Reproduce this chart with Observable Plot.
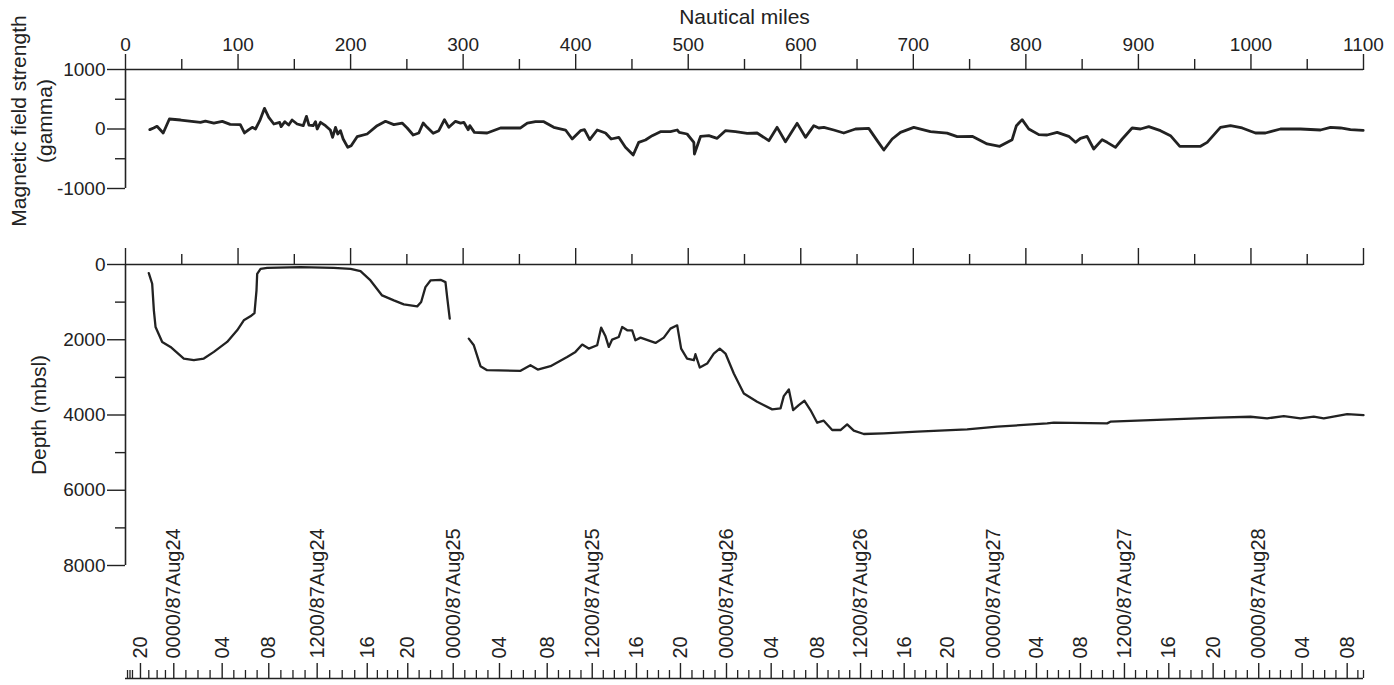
<!DOCTYPE html>
<html>
<head>
<meta charset="utf-8">
<script src="https://cdn.jsdelivr.net/npm/d3@7"></script>
<script src="https://cdn.jsdelivr.net/npm/@observablehq/plot@0.6"></script>
<style>
  html, body { margin: 0; padding: 0; background: #fff; overflow: hidden; }
  #wrap { position: relative; width: 1394px; height: 685px; }
  #wrap > div { position: absolute; left: 0; top: 0; }
</style>
</head>
<body>
<div id="wrap"><div id="p1"></div><div id="p2"></div><div id="p3"></div></div>
<script>
// ---------- Data ----------
// Magnetic field anomaly (gamma) vs distance (nautical miles)
const magNm = [21.6, 25, 28, 33.5, 39, 49, 66.6, 71, 78.5, 86, 93, 102, 105.7, 109.6, 112.6, 115.5, 119.3, 123.5, 127.3, 131.8, 137, 138.3, 141.6, 145, 148, 152.5, 157.9, 160.8, 163, 166.7, 168.8, 170.3, 173.3, 177.7, 182, 184, 186.6, 188.6, 191, 193.4, 197.5, 200.5, 205.8, 214.7, 223.6, 231, 238.4, 245.8, 250.3, 255.6, 260.6, 264.5, 268, 273.4, 278.4, 283.4, 287.3, 293.2, 297.7, 300.6, 304.5, 305.9, 310, 321.3, 333.2, 351, 357, 364.3, 371.7, 380.5, 391, 396.9, 404.3, 407.8, 412.5, 419.1, 426.5, 431.5, 438.3, 444.2, 451.1, 456, 462, 468, 475.3, 484.2, 490.2, 492, 499, 505, 505.5, 511, 518.3, 525.7, 533, 542, 552.4, 561.2, 571.6, 579, 586.4, 596.8, 604.2, 611.6, 616, 620.5, 629.3, 638.2, 648.6, 660.4, 667.9, 673.8, 681.2, 688.6, 700.4, 715.2, 730, 739, 752.3, 765.6, 776.8, 787.8, 791.6, 796.7, 802.6, 811.5, 818.9, 827.8, 838.1, 844.1, 848.5, 854.4, 860.3, 867.8, 872.2, 879.6, 885.6, 894.4, 901.8, 909.2, 919.6, 928.5, 936.8, 955.2, 961.1, 972.9, 981.8, 992.2, 1004, 1012.9, 1026.2, 1044, 1061.8, 1070.7, 1079.6, 1088.4, 1099.7];
const magGamma = [-11, 17, 45, -67, 168, 151, 112, 134, 100, 129, 78, 73, -67, -11, 28, 0, 140, 347, 196, 84, 112, 39, 123, 67, 151, 84, 56, 213, 67, 56, 123, 0, 112, 56, -17, -140, 28, -84, -28, -168, -308, -280, -129, -84, 56, 129, 73, 100, 17, -101, -67, 100, 28, -73, -28, 157, 28, 129, 100, 112, -11, 56, -56, -67, 17, 17, 100, 123, 123, 28, -17, -168, -28, -11, -179, -17, -67, -168, -140, -308, -437, -224, -185, -112, -45, -45, -17, -56, -84, -224, -420, -123, -112, -157, -28, -45, -73, -67, -196, 28, -213, 95, -140, 56, 17, 28, -17, -67, 0, 11, -196, -353, -168, -56, 28, -45, -70, -129, -123, -252, -291, -179, 56, 157, 0, -95, -101, -56, -123, -224, -157, -123, -336, -179, -224, -308, -168, 17, 0, 39, -28, -112, -291, -291, -224, 28, 56, 17, -67, -67, 0, 0, -17, 28, 17, -11, -22];

// Bathymetry (m below sea level), two recorded segments
const depthNm1 = [20.7, 23.7, 25.2, 26.7, 32.6, 40, 51.8, 60.7, 69.6, 78.5, 90.3, 99.2, 105.1, 111, 114.6, 116.4, 117, 120, 125.9, 155.5, 185, 200, 208.8, 217.7, 228, 238.4, 247.3, 259.2, 262.7, 266.5, 271, 279.9, 284.3, 285.8, 288.1];
const depthM1 = [230, 512, 1219, 1661, 2058, 2191, 2500, 2544, 2500, 2323, 2058, 1749, 1484, 1378, 1290, 689, 247, 115, 88, 71, 88, 115, 177, 424, 822, 954, 1060, 1113, 998, 601, 424, 406, 468, 866, 1439];
const depthNm2 = [305, 309.5, 315.4, 321.3, 351, 359.8, 366.3, 377.6, 392.4, 399.8, 405.8, 411.6, 419.1, 422.6, 426.5, 429.4, 432.4, 438.3, 441.3, 445.8, 450.2, 453.1, 457.6, 470.9, 478.3, 484.2, 490.2, 493.7, 499, 505, 506.4, 510.3, 516.8, 522.7, 528, 533.1, 540.5, 549.4, 561.2, 574.6, 582, 584.9, 589.4, 593.2, 598.2, 603.3, 608.6, 614.6, 620.4, 627.9, 635.3, 641.2, 647.1, 656, 673.8, 703.4, 747.8, 774.5, 818.9, 824.8, 872.2, 875.1, 910.7, 969.9, 999.6, 1014.4, 1029.2, 1044, 1055.8, 1064.7, 1085.5, 1100];
const depthM2 = [1970, 2147, 2703, 2809, 2827, 2677, 2792, 2703, 2456, 2323, 2128, 2235, 2147, 1678, 1908, 2191, 1996, 1926, 1661, 1749, 1749, 2014, 1944, 2085, 1944, 1705, 1617, 2235, 2500, 2544, 2385, 2738, 2633, 2367, 2235, 2367, 2897, 3427, 3648, 3851, 3825, 3498, 3321, 3869, 3737, 3622, 3869, 4205, 4152, 4399, 4399, 4249, 4417, 4505, 4487, 4443, 4382, 4311, 4222, 4205, 4222, 4178, 4134, 4072, 4046, 4090, 4028, 4090, 4046, 4090, 3975, 4002];

// Axis ticks
const distMajorTicks = [0, 100, 200, 300, 400, 500, 600, 700, 800, 900, 1000, 1100];
const distMinorTicks = [50, 150, 250, 350, 450, 550, 650, 750, 850, 950, 1050];
const magMajorTicks = [-1000, 0, 1000];
const magMinorTicks = [-500, 500];
const depthMajorTicks = [0, 2000, 4000, 6000, 8000];
const depthMinorTicks = [1000, 3000, 5000, 7000];

// Time annotation (4-hourly ticks) and their position along track (nautical miles)
const timeLabels = ["20", "0000/87Aug24", "04", "08", "1200/87Aug24", "16", "20", "0000/87Aug25", "04", "08", "1200/87Aug25", "16", "20", "0000/87Aug26", "04", "08", "1200/87Aug26", "16", "20", "0000/87Aug27", "04", "08", "1200/87Aug27", "16", "20", "0000/87Aug28", "04", "08"];
const timeNm = [13.3, 42.9, 85.9, 127.3, 170.3, 214.8, 250.8, 291.2, 332.3, 374.7, 414.7, 454, 493.1, 534, 573.7, 614.6, 653.1, 691.9, 730.1, 771, 809.4, 848.5, 887.6, 927, 966.4, 1006.9, 1045.5, 1085.5];
const timeExtraMinorNm = [1.8, 4.0, 6.2, 1095, 1100];

// ---------- Build tables ----------
const mag = magNm.map((x, i) => ({nm: x, g: magGamma[i]}));
const depth = [
  ...depthNm1.map((x, i) => ({nm: x, d: depthM1[i], seg: 1})),
  ...depthNm2.map((x, i) => ({nm: x, d: depthM2[i], seg: 2}))
];
const timeMajor = timeNm.map((x, i) => ({nm: x, label: timeLabels[i]}));
const timeMinor = [...timeExtraMinorNm];
for (let i = 0; i < timeNm.length - 1; i++) {
  for (let k = 1; k < 4; k++) timeMinor.push(timeNm[i] + (timeNm[i + 1] - timeNm[i]) * k / 4);
}

const FONT = "'Liberation Sans', Arial, Helvetica, sans-serif";
const INK = "#222";
const baseStyle = {background: "transparent", fontFamily: FONT, fontSize: "19px", color: INK, overflow: "visible"};
const common = {width: 1394, height: 685, marginLeft: 125, marginRight: 31, style: baseStyle};
const str = d => String(d);
const none = () => "";

// ---------- Panel 1 : magnetics ----------
const p1 = Plot.plot({
  ...common,
  marginTop: 69, marginBottom: 497,
  x: {domain: [0, 1100]},
  y: {domain: [-1000, 1000]},
  marks: [
    Plot.ruleY([1000], {stroke: INK, strokeWidth: 1.6}),
    Plot.ruleX([0], {stroke: INK, strokeWidth: 1.6}),
    Plot.axisX({anchor: "top", ticks: distMajorTicks, tickSize: 16, tickPadding: 3, tickFormat: str, label: null, strokeWidth: 1.4, fontSize: 19}),
    Plot.axisX({anchor: "top", ticks: distMinorTicks, tickSize: 11, tickFormat: none, label: null, strokeWidth: 1.4}),
    Plot.axisY({anchor: "left", ticks: magMajorTicks, tickSize: 18, tickPadding: 2, tickFormat: str, label: null, strokeWidth: 1.4, fontSize: 19}),
    Plot.axisY({anchor: "left", ticks: magMinorTicks, tickSize: 10, tickFormat: none, label: null, strokeWidth: 1.4}),
    Plot.line(mag, {x: "nm", y: "g", stroke: INK, strokeWidth: 2.8, strokeLinejoin: "round"}),
    Plot.text(["Nautical miles"], {frameAnchor: "top", lineAnchor: "middle", dy: -52, fontSize: 21, fill: INK}),
    Plot.text(["Magnetic field strength\n(gamma)"], {frameAnchor: "left", textAnchor: "middle", lineAnchor: "middle", rotate: -90, dx: -95, dy: -8, fontSize: 21, lineHeight: 1.25, fill: INK})
  ]
});
document.getElementById("p1").appendChild(p1);

// ---------- Panel 2 : depth ----------
const p2 = Plot.plot({
  ...common,
  marginTop: 264, marginBottom: 120,
  x: {domain: [0, 1100]},
  y: {domain: [0, 8000], reverse: true},
  marks: [
    Plot.ruleY([0], {stroke: INK, strokeWidth: 1.6}),
    Plot.ruleX([0], {stroke: INK, strokeWidth: 1.6}),
    Plot.axisX({anchor: "top", ticks: distMajorTicks, tickSize: 17, tickFormat: none, label: null, strokeWidth: 1.4}),
    Plot.axisX({anchor: "top", ticks: distMinorTicks, tickSize: 11, tickFormat: none, label: null, strokeWidth: 1.4}),
    Plot.axisY({anchor: "left", ticks: depthMajorTicks, tickSize: 18, tickPadding: 2, tickFormat: str, label: null, strokeWidth: 1.4, fontSize: 19}),
    Plot.axisY({anchor: "left", ticks: depthMinorTicks, tickSize: 10, tickFormat: none, label: null, strokeWidth: 1.4}),
    Plot.line(depth, {x: "nm", y: "d", z: "seg", stroke: INK, strokeWidth: 2.3, strokeLinejoin: "round"}),
    Plot.text(["Depth (mbsl)"], {frameAnchor: "left", textAnchor: "middle", lineAnchor: "middle", rotate: -90, dx: -86, fontSize: 21, fill: INK})
  ]
});
document.getElementById("p2").appendChild(p2);

// ---------- Panel 3 : time annotation axis ----------
const p3 = Plot.plot({
  ...common,
  marginTop: 658, marginBottom: 7,
  x: {domain: [0, 1100], axis: null},
  y: {domain: [0, 20], axis: null},
  marks: [
    Plot.ruleY([0], {stroke: INK, strokeWidth: 1.6}),
    Plot.ruleX(timeMajor, {x: "nm", y1: 0, y2: 15, stroke: INK, strokeWidth: 1.4}),
    Plot.ruleX(timeMinor, {x: d => d, y1: 0, y2: 8, stroke: INK, strokeWidth: 1.3}),
    Plot.text(timeMajor, {x: "nm", y: 20, text: "label", rotate: -90, textAnchor: "start", lineAnchor: "middle", fontSize: 20, fill: INK})
  ]
});
document.getElementById("p3").appendChild(p3);
</script>
</body>
</html>
